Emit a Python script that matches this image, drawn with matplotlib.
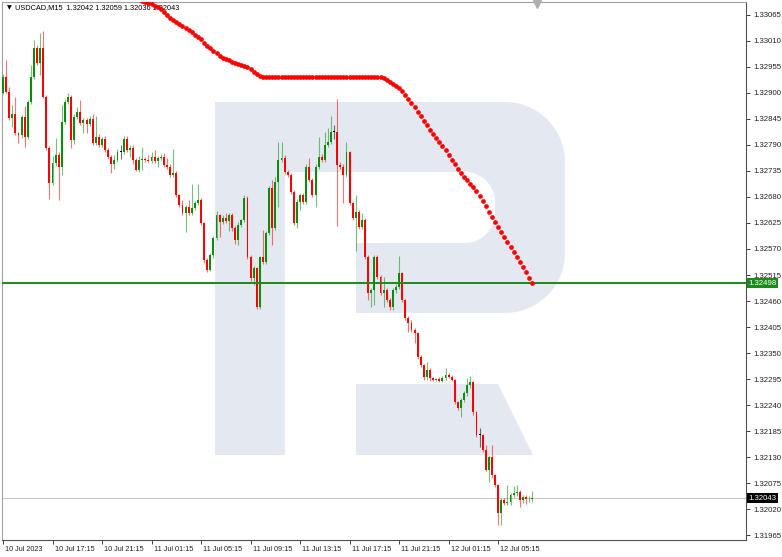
import matplotlib.pyplot as plt
import matplotlib.transforms as mtransforms
from matplotlib.patches import Polygon
import numpy as np

# M15 bars, USDCAD, 10 Jul 13:15 -> 12 Jul ~08:00
first_open = 1.32900
closes = [
    1.32934, 1.32902, 1.32847, 1.32856, 1.32815, 1.32811, 1.32849, 1.32807, 1.32881, 1.32934,
    1.32995, 1.32963, 1.32995, 1.32892, 1.32784, 1.32710, 1.32752, 1.32769, 1.32744, 1.32839,
    1.32881, 1.32892, 1.32801, 1.32849, 1.32860, 1.32837, 1.32843, 1.32834, 1.32845, 1.32794,
    1.32807, 1.32790, 1.32803, 1.32779, 1.32765, 1.32750, 1.32758, 1.32775, 1.32775, 1.32803,
    1.32779, 1.32784, 1.32758, 1.32737, 1.32758, 1.32760, 1.32758, 1.32757, 1.32765, 1.32756,
    1.32763, 1.32765, 1.32748, 1.32744, 1.32727, 1.32731, 1.32684, 1.32663, 1.32646, 1.32659,
    1.32646, 1.32657, 1.32667, 1.32674, 1.32625, 1.32547, 1.32526, 1.32557, 1.32593, 1.32642,
    1.32627, 1.32636, 1.32629, 1.32642, 1.32615, 1.32589, 1.32621, 1.32631, 1.32678, 1.32553,
    1.32509, 1.32530, 1.32447, 1.32553, 1.32543, 1.32604, 1.32699, 1.32615, 1.32712, 1.32758,
    1.32763, 1.32733, 1.32727, 1.32691, 1.32625, 1.32670, 1.32684, 1.32670, 1.32744, 1.32716,
    1.32684, 1.32744, 1.32765, 1.32758, 1.32790, 1.32796, 1.32818, 1.32818, 1.32748, 1.32744,
    1.32727, 1.32775, 1.32667, 1.32636, 1.32648, 1.32617, 1.32631, 1.32553, 1.32477, 1.32483,
    1.32553, 1.32511, 1.32477, 1.32483, 1.32462, 1.32447, 1.32483, 1.32490, 1.32519, 1.32462,
    1.32424, 1.32414, 1.32399, 1.32392, 1.32342, 1.32325, 1.32299, 1.32314, 1.32297, 1.32293,
    1.32295, 1.32292, 1.32297, 1.32304, 1.32300, 1.32293, 1.32246, 1.32234, 1.32251, 1.32265,
    1.32282, 1.32289, 1.32225, 1.32177, 1.32177, 1.32145, 1.32103, 1.32130, 1.32092, 1.32071,
    1.32012, 1.32039, 1.32033, 1.32035, 1.32050, 1.32054, 1.32056, 1.32039, 1.32045, 1.32041,
    1.32042, 1.32043,
]
# wick lengths in pips above / below the body
wick_up = [
    0.5, 3.6, 1.0, 1.9, 3.6, 0.3, 0.5, 2.3, 0.4, 2.5,
    1.7, 0.6, 3.2, 3.6, 0.3, 0.3, 1.5, 3.5, 0.6, 3.6,
    0.5, 0.8, 0.4, 0.6, 1.0, 2.5, 0.4, 0.4, 0.6, 1.0,
    4.5, 0.5, 0.4, 0.5, 0.5, 0.3, 1.0, 0.6, 1.5, 0.6,
    0.5, 0.6, 0.5, 0.5, 0.8, 2.5, 0.5, 1.0, 1.0, 1.5,
    0.3, 0.5, 0.8, 1.5, 0.5, 5.0, 0.3, 0.3, 1.0, 0.5,
    1.5, 5.0, 0.5, 3.4, 0.3, 0.3, 0.3, 0.5, 0.5, 0.8,
    0.3, 0.5, 1.0, 0.5, 0.4, 0.3, 0.5, 0.3, 0.6, 0.3,
    0.5, 0.5, 0.3, 0.3, 5.7, 0.5, 0.5, 1.7, 1.0, 3.8,
    3.4, 0.5, 0.5, 0.3, 0.3, 0.5, 0.5, 0.5, 0.5, 1.9,
    0.5, 0.5, 4.2, 0.5, 2.7, 3.0, 3.4, 1.5, 7.0, 0.5,
    0.5, 2.1, 0.3, 0.3, 3.6, 0.5, 1.5, 0.5, 0.5, 0.4,
    0.5, 0.5, 0.5, 2.7, 0.5, 0.5, 0.5, 0.5, 3.6, 0.3,
    0.3, 0.5, 0.5, 0.5, 0.3, 0.3, 0.3, 1.7, 0.5, 0.3,
    0.3, 0.5, 0.5, 1.5, 0.3, 0.3, 0.3, 0.3, 0.5, 0.5,
    1.5, 1.2, 0.3, 0.3, 1.5, 0.3, 1.0, 0.5, 2.5, 0.3,
    0.3, 0.5, 0.5, 3.6, 0.5, 1.5, 1.5, 0.5, 0.5, 0.5,
    0.5, 1.6,
]
wick_dn = [
    0.3, 0.3, 0.4, 1.9, 0.4, 1.7, 0.6, 2.1, 0.4, 0.4,
    0.4, 0.4, 2.5, 0.3, 0.5, 3.4, 0.5, 0.6, 7.0, 1.7,
    0.5, 0.5, 1.7, 1.0, 0.5, 0.5, 2.1, 1.9, 0.5, 0.5,
    0.5, 0.5, 0.5, 0.5, 0.5, 1.9, 1.0, 0.5, 1.5, 0.5,
    0.5, 1.5, 0.8, 0.3, 0.5, 2.2, 0.5, 0.3, 0.5, 0.5,
    1.3, 0.5, 0.5, 0.5, 0.5, 0.5, 0.5, 0.5, 0.5, 4.0,
    0.5, 0.5, 0.5, 0.5, 0.5, 0.7, 0.5, 0.3, 0.5, 0.4,
    3.2, 0.5, 0.5, 2.0, 0.6, 0.8, 1.0, 0.5, 0.5, 0.5,
    0.6, 1.5, 0.3, 0.3, 0.4, 0.5, 0.5, 3.6, 0.5, 5.3,
    0.5, 0.5, 0.5, 0.5, 0.5, 1.0, 1.7, 0.5, 0.5, 0.5,
    0.5, 2.5, 0.5, 0.5, 0.5, 0.5, 0.5, 1.5, 13.0, 0.5,
    5.9, 0.5, 0.5, 0.5, 7.0, 0.5, 0.5, 0.5, 1.5, 3.0,
    3.2, 0.5, 0.5, 3.0, 0.5, 0.5, 0.5, 0.5, 0.5, 0.5,
    0.5, 2.0, 0.5, 2.1, 0.5, 0.5, 0.5, 0.5, 0.5, 0.3,
    0.3, 0.3, 0.3, 0.3, 0.3, 0.3, 0.3, 0.5, 1.9, 0.5,
    0.5, 0.5, 0.5, 0.5, 2.5, 0.5, 0.3, 2.5, 0.5, 0.5,
    2.5, 2.5, 0.5, 0.5, 0.5, 0.5, 0.5, 1.5, 0.5, 1.0,
    0.5, 0.6,
]
# red dotted moving average, starts at bar 44
ma_start = 44
ma_values = [
    1.33099, 1.33095, 1.33092, 1.33090, 1.33087, 1.33084, 1.33081, 1.33078, 1.33071, 1.33065,
    1.33059, 1.33054, 1.33050, 1.33046, 1.33042, 1.33037, 1.33033, 1.33029, 1.33023, 1.33018,
    1.33014, 1.33006, 1.32999, 1.32995, 1.32989, 1.32985, 1.32978, 1.32974, 1.32972, 1.32970,
    1.32966, 1.32963, 1.32961, 1.32959, 1.32957, 1.32955, 1.32951, 1.32944, 1.32940, 1.32936,
    1.32934, 1.32934, 1.32934, 1.32934, 1.32934, 1.32934, 1.32934, 1.32934, 1.32934, 1.32934,
    1.32934, 1.32934, 1.32934, 1.32934, 1.32934, 1.32934, 1.32934, 1.32934, 1.32934, 1.32934,
    1.32934, 1.32934, 1.32934, 1.32934, 1.32934, 1.32934, 1.32934, 1.32934, 1.32934, 1.32934,
    1.32934, 1.32934, 1.32934, 1.32934, 1.32934, 1.32934, 1.32934, 1.32934, 1.32934, 1.32932,
    1.32928, 1.32923, 1.32919, 1.32915, 1.32911, 1.32904, 1.32896, 1.32887, 1.32879, 1.32870,
    1.32860, 1.32851, 1.32841, 1.32832, 1.32822, 1.32813, 1.32805, 1.32796, 1.32788, 1.32779,
    1.32769, 1.32758, 1.32750, 1.32739, 1.32731, 1.32722, 1.32716, 1.32707, 1.32701, 1.32693,
    1.32682, 1.32671, 1.32661, 1.32648, 1.32638, 1.32627, 1.32617, 1.32606, 1.32595, 1.32585,
    1.32574, 1.32564, 1.32553, 1.32543, 1.32532, 1.32521, 1.32509, 1.32498,
]
level_price = 1.32498
last_price = 1.32043
header = "USDCAD,M15  1.32042 1.32059 1.32036 1.32043"

price_ticks = [1.33065, 1.33010, 1.32955, 1.32900, 1.32845, 1.32790, 1.32735, 1.32680,
               1.32625, 1.32570, 1.32515, 1.32460, 1.32405, 1.32350, 1.32295, 1.32240,
               1.32185, 1.32130, 1.32075, 1.32020, 1.31965]
time_tick_bars = [0, 16, 32, 48, 64, 80, 96, 112, 128, 144, 160]
time_labels = ["10 Jul 2023", "10 Jul 17:15", "10 Jul 21:15", "11 Jul 01:15", "11 Jul 05:15",
               "11 Jul 09:15", "11 Jul 13:15", "11 Jul 17:15", "11 Jul 21:15", "12 Jul 01:15",
               "12 Jul 05:15"]

plt.rcParams['font.family'] = ['Liberation Sans', 'DejaVu Sans']

W, H = 782, 557
fig = plt.figure(figsize=(W / 100, H / 100), dpi=100)
L, R, T, B = 2, 746, 2, 540
ax = fig.add_axes([L / W, (H - B) / H, (R - L) / W, (B - T) / H])
ax.set_xlim(-0.32, 240.1)
ax.set_ylim(1.31955, 1.33092)

# watermark "R" (pixel coords -> axes fraction)
def px2ax(pts):
    return [((px - L) / (R - L), (B - py) / (B - T)) for px, py in pts]

def arc(cx, cy, r, a0, a1, n=16):
    t = np.radians(np.linspace(a0, a1, n))
    return list(zip(cx + r * np.cos(t), cy + r * np.sin(t)))

wm = '#e4e9f1'
bowl = ([(215, 102)] + arc(505, 162, 60, -90, 0) + arc(505, 253, 60, 0, 90) +
        [(356, 313), (356, 243)] + arc(465, 213, 30, 90, 0) + arc(465, 202, 30, 0, -90) +
        [(285, 172), (285, 455), (215, 455)])
leg = [(356, 384), (498, 384), (533, 455), (356, 455)]
for shape in (bowl, leg):
    ax.add_patch(Polygon(px2ax(shape), closed=True, fc=wm, ec='none',
                         transform=ax.transAxes, zorder=0))

# candles
opens = [first_open] + closes[:-1]
x = np.arange(len(closes))
up_col, dn_col = '#0c8c0c', '#ff0000'
for i, (o, c) in enumerate(zip(opens, closes)):
    hi = max(o, c) + wick_up[i] * 1e-4
    lo = min(o, c) - wick_dn[i] * 1e-4
    if abs(c - o) < 1e-6:
        col = '#000000'
    else:
        col = up_col if c > o else dn_col
    ax.vlines(i, lo, hi, color=col, lw=0.8, alpha=0.55, zorder=2)
    ax.bar(i, max(abs(c - o), 1.2e-5), bottom=min(o, c), width=0.62, color=col,
           lw=0, zorder=3)

# moving average dots
ma_x = np.arange(ma_start, ma_start + len(ma_values))
ax.plot(ma_x, ma_values, 'o', color='#ff0000', ms=3.4, mec='none', zorder=4)

# horizontal lines
ax.axhline(level_price, color='#1a8a1a', lw=1.4, zorder=3)
ax.axhline(last_price, color='#c8c8c8', lw=0.8, zorder=1)

# axes styling
ax.yaxis.tick_right()
ax.set_yticks(price_ticks)
ax.set_yticklabels([f"{p:.5f}" for p in price_ticks])
ax.set_xticks(time_tick_bars)
ax.set_xticklabels(time_labels)
ax.tick_params(axis='y', direction='out', length=3, width=0.6, pad=2,
               labelsize=5.6, colors='#202020')
ax.tick_params(axis='x', direction='out', length=3, width=0.6, pad=1.5,
               labelsize=5.2, colors='#202020')
offset = mtransforms.ScaledTranslation(2 / 100, 0, fig.dpi_scale_trans)
for lbl in ax.get_xticklabels():
    lbl.set_ha('left')
    lbl.set_transform(lbl.get_transform() + offset)
for side in ('left', 'top'):
    ax.spines[side].set_color('#a0a0a0')
    ax.spines[side].set_linewidth(0.8)
for side in ('right', 'bottom'):
    ax.spines[side].set_color('#505050')
    ax.spines[side].set_linewidth(0.8)

# price boxes on the right axis
bt = mtransforms.blended_transform_factory(ax.transAxes, ax.transData)
ax.text(1.003, level_price, f"{level_price:.5f}", transform=bt, ha='left', va='center',
        fontsize=5.6, color='white', clip_on=False, zorder=6,
        bbox=dict(boxstyle='square,pad=0.2', fc='#1a8a1a', ec='none'))
ax.text(1.003, last_price, f"{last_price:.5f}", transform=bt, ha='left', va='center',
        fontsize=5.6, color='white', clip_on=False, zorder=6,
        bbox=dict(boxstyle='square,pad=0.2', fc='#000000', ec='none'))

# header and shift marker
ax.text(5 / (R - L), 1 - 6 / (B - T), "\u25bc", transform=ax.transAxes, fontsize=4.5,
        va='center', ha='left', family=['DejaVu Sans'], zorder=1)
ax.text(13 / (R - L), 1 - 6 / (B - T), header, transform=ax.transAxes, fontsize=5.3,
        va='center', ha='left', zorder=1)
ax.plot([(537 - L) / (R - L)], [1 - 2 / (B - T)], marker='v', color='#b0b0b0', ms=6,
        transform=ax.transAxes, clip_on=False, zorder=5)

fig.savefig('out.png', dpi=100)
